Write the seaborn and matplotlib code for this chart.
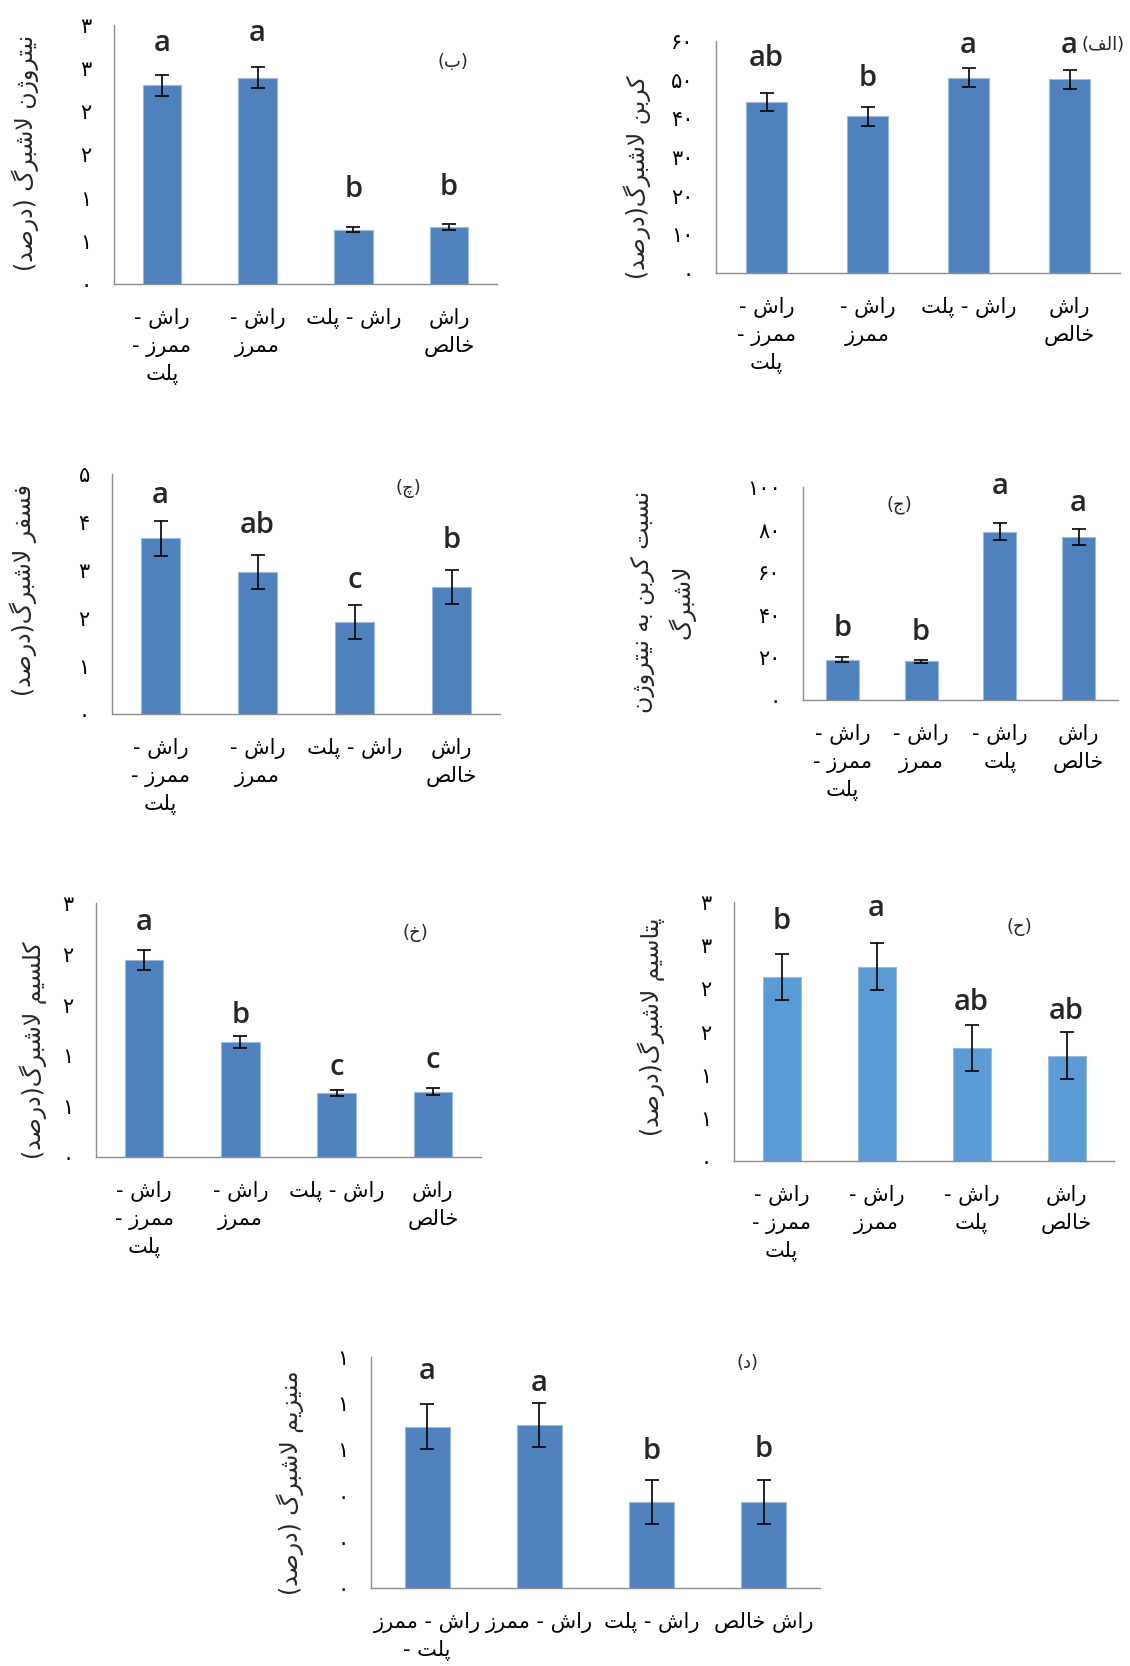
import matplotlib
matplotlib.use('Agg')
import matplotlib.pyplot as plt
import seaborn as sns

sns.set_theme(style="white")
plt.rcParams['font.family'] = ['DejaVu Sans']

W, H = 1130, 1666

categories = ['راش - ممرز - پلت', 'راش - ممرز', 'راش - پلت', 'راش خالص']

# how the category names are wrapped under each panel
labels_wrap_a = ['راش -\nممرز -\nپلت', 'راش -\nممرز', 'راش - پلت', 'راش\nخالص']
labels_wrap_b = ['راش -\nممرز -\nپلت', 'راش -\nممرز', 'راش -\nپلت', 'راش\nخالص']
labels_wrap_c = ['راش - ممرز\nپلت -', 'راش - ممرز', 'راش - پلت', 'راش خالص']

# (الف) carbon
carbon_mean = [44.2, 40.5, 50.5, 50.1]
carbon_err = [2.4, 2.5, 2.5, 2.5]
carbon_letters = ['ab', 'b', 'a', 'a']
carbon_letter_y = [55.4, 50.3, 58.9, 58.9]
carbon_ticks = [0, 10, 20, 30, 40, 50, 60]
carbon_ticklabels = ['۰', '۱۰', '۲۰', '۳۰', '۴۰', '۵۰', '۶۰']

# (ب) nitrogen
nitrogen_mean = [2.30, 2.39, 0.63, 0.66]
nitrogen_err = [0.12, 0.12, 0.033, 0.04]
nitrogen_letters = ['a', 'a', 'b', 'b']
nitrogen_letter_y = [2.79, 2.90, 1.09, 1.12]
nitrogen_ticks = [0, 0.5, 1, 1.5, 2, 2.5, 3]
nitrogen_ticklabels = ['۰', '۱', '۱', '۲', '۲', '۳', '۳']

# (ج) C/N ratio
cn_mean = [18.9, 18.1, 79.1, 76.6]
cn_err = [1.1, 0.9, 4.1, 3.9]
cn_letters = ['b', 'b', 'a', 'a']
cn_letter_y = [33.6, 31.6, 100.0, 92.2]
cn_ticks = [0, 20, 40, 60, 80, 100]
cn_ticklabels = ['۰', '۲۰', '۴۰', '۶۰', '۸۰', '۱۰۰']

# (چ) phosphorus
phos_mean = [3.66, 2.96, 1.92, 2.65]
phos_err = [0.36, 0.36, 0.36, 0.36]
phos_letters = ['a', 'ab', 'c', 'b']
phos_letter_y = [4.55, 3.93, 2.78, 3.61]
phos_ticks = [0, 1, 2, 3, 4, 5]
phos_ticklabels = ['۰', '۱', '۲', '۳', '۴', '۵']

# (ح) potassium
pot_mean = [2.13, 2.25, 1.31, 1.22]
pot_err = [0.27, 0.27, 0.27, 0.27]
pot_letters = ['b', 'a', 'ab', 'ab']
pot_letter_y = [2.77, 2.92, 1.84, 1.73]
pot_ticks = [0, 0.5, 1, 1.5, 2, 2.5, 3]
pot_ticklabels = ['۰', '۱', '۱', '۲', '۲', '۳', '۳']

# (خ) calcium
cal_mean = [1.94, 1.13, 0.63, 0.644]
cal_err = [0.095, 0.057, 0.03, 0.033]
cal_letters = ['a', 'b', 'c', 'c']
cal_letter_y = [2.31, 1.395, 0.88, 0.954]
cal_ticks = [0, 0.5, 1, 1.5, 2, 2.5]
cal_ticklabels = ['۰', '۱', '۱', '۲', '۲', '۳']

# (د) magnesium
mag_mean = [0.699, 0.707, 0.373, 0.373]
mag_err = [0.097, 0.095, 0.096, 0.096]
mag_letters = ['a', 'a', 'b', 'b']
mag_letter_y = [0.938, 0.887, 0.591, 0.598]
mag_ticks = [0, 0.2, 0.4, 0.6, 0.8, 1.0]
mag_ticklabels = ['۰', '۰', '۰', '۱', '۱', '۱']


# minimal arabic shaping (isolated, final, initial, medial)
FORMS = {
    'ا': ('\uFE8D', '\uFE8E', None, None),
    'ب': ('\uFE8F', '\uFE90', '\uFE91', '\uFE92'),
    'پ': ('\uFB56', '\uFB57', '\uFB58', '\uFB59'),
    'ت': ('\uFE95', '\uFE96', '\uFE97', '\uFE98'),
    'ج': ('\uFE9D', '\uFE9E', '\uFE9F', '\uFEA0'),
    'چ': ('\uFB7A', '\uFB7B', '\uFB7C', '\uFB7D'),
    'ح': ('\uFEA1', '\uFEA2', '\uFEA3', '\uFEA4'),
    'خ': ('\uFEA5', '\uFEA6', '\uFEA7', '\uFEA8'),
    'د': ('\uFEA9', '\uFEAA', None, None),
    'ر': ('\uFEAD', '\uFEAE', None, None),
    'ز': ('\uFEAF', '\uFEB0', None, None),
    'ژ': ('\uFB8A', '\uFB8B', None, None),
    'س': ('\uFEB1', '\uFEB2', '\uFEB3', '\uFEB4'),
    'ش': ('\uFEB5', '\uFEB6', '\uFEB7', '\uFEB8'),
    'ص': ('\uFEB9', '\uFEBA', '\uFEBB', '\uFEBC'),
    'ف': ('\uFED1', '\uFED2', '\uFED3', '\uFED4'),
    'ک': ('\uFB8E', '\uFB8F', '\uFB90', '\uFB91'),
    'گ': ('\uFB92', '\uFB93', '\uFB94', '\uFB95'),
    'ل': ('\uFEDD', '\uFEDE', '\uFEDF', '\uFEE0'),
    'م': ('\uFEE1', '\uFEE2', '\uFEE3', '\uFEE4'),
    'ن': ('\uFEE5', '\uFEE6', '\uFEE7', '\uFEE8'),
    'ه': ('\uFEE9', '\uFEEA', '\uFEEB', '\uFEEC'),
    'و': ('\uFEED', '\uFEEE', None, None),
    'ی': ('\uFBFC', '\uFBFD', '\uFBFE', '\uFBFF'),
}


def joins_next(c):
    return c in FORMS and FORMS[c][2] is not None


def shape_line(text):
    out = []
    i = 0
    while i < len(text):
        c = text[i]
        if c not in FORMS:
            out.append(c)
            i += 1
            continue
        link_prev = i > 0 and joins_next(text[i - 1])
        if c == 'ل' and i + 1 < len(text) and text[i + 1] == 'ا':
            out.append('\uFEFC' if link_prev else '\uFEFB')
            i += 2
            continue
        link_next = joins_next(c) and i + 1 < len(text) and text[i + 1] in FORMS
        iso, fin, ini, med = FORMS[c]
        if link_prev and link_next:
            out.append(med)
        elif link_prev:
            out.append(fin)
        elif link_next:
            out.append(ini)
        else:
            out.append(iso)
        i += 1
    return ''.join(reversed(out)).translate(str.maketrans('()', ')('))


def fa(text):
    return '\n'.join(shape_line(t) for t in text.split('\n'))


def px(x, y):
    return x / W, 1 - y / H


YLAB = 17   # y axis titles
CAT = 15    # category labels


def draw_panel(fig, box, means, errs, letters, letter_y, ticks, ticklabels,
               xlabels, color='#4F81BD', width=0.4):
    x0, y0, x1, y1 = box
    ax = fig.add_axes([x0 / W, 1 - y1 / H, (x1 - x0) / W, (y1 - y0) / H])
    sns.barplot(x=categories, y=means, color=color, width=width,
                edgecolor='#9DB9DC', linewidth=0.8, saturation=1, ax=ax)
    xs = [p.get_x() + p.get_width() / 2 for p in ax.patches]
    ax.errorbar(xs, means, yerr=errs, fmt='none', ecolor='black',
                elinewidth=1.2, capsize=5, capthick=1.2)
    for x, lab, ly in zip(xs, letters, letter_y):
        ax.text(x, ly, lab, ha='center', va='center', fontsize=21,
                fontweight='semibold', family=['Open Sans', 'DejaVu Sans'])

    ax.set_xlim(-0.5, 3.5)
    ax.set_ylim(0, ticks[-1])
    ax.set_yticks(ticks)
    ax.set_yticklabels(ticklabels, fontsize=15)
    ax.set_xticks([-0.5, 0.5, 1.5, 2.5, 3.5])
    ax.set_xticklabels([])
    ax.set_xticks(range(4), minor=True)
    ax.set_xticklabels([fa(t) for t in xlabels], minor=True, fontsize=CAT,
                       linespacing=1.45, multialignment='center')
    ax.tick_params(axis='y', which='major', direction='out', length=6,
                   width=1, color='#8C8C8C', pad=10, labelcolor='black')
    ax.tick_params(axis='x', which='major', direction='out', length=7,
                   width=1, color='#8C8C8C')
    ax.tick_params(axis='x', which='minor', length=0, pad=17, labelcolor='black')
    ax.set_xlabel('')
    ax.set_ylabel('')
    sns.despine(ax=ax)
    for s in ['left', 'bottom']:
        ax.spines[s].set_color('#8C8C8C')
        ax.spines[s].set_linewidth(1)
    return ax


fig = plt.figure(figsize=(W / 100, H / 100), dpi=100)

# (ب) nitrogen
draw_panel(fig, (114, 25, 497, 284), nitrogen_mean, nitrogen_err, nitrogen_letters,
           nitrogen_letter_y, nitrogen_ticks, nitrogen_ticklabels, labels_wrap_a)
fig.text(*px(453, 62), fa('(ب)'), ha='center', va='center', fontsize=13)
fig.text(*px(25, 153), fa('نیتروژن لاشبرگ (درصد)'), rotation=90,
         ha='center', va='center', fontsize=YLAB)

# (الف) carbon
draw_panel(fig, (716, 41, 1120, 273), carbon_mean, carbon_err, carbon_letters,
           carbon_letter_y, carbon_ticks, carbon_ticklabels, labels_wrap_a)
fig.text(*px(1103, 45), fa('(الف)'), ha='center', va='center', fontsize=13)
fig.text(*px(637, 177), fa('کربن لاشبرگ(درصد)'), rotation=90,
         ha='center', va='center', fontsize=YLAB)

# (چ) phosphorus
draw_panel(fig, (112, 474, 500, 714), phos_mean, phos_err, phos_letters,
           phos_letter_y, phos_ticks, phos_ticklabels, labels_wrap_a)
fig.text(*px(408, 488), fa('(چ)'), ha='center', va='center', fontsize=13)
fig.text(*px(23, 590), fa('فسفر لاشبرگ(درصد)'), rotation=90,
         ha='center', va='center', fontsize=YLAB)

# (ج) C/N
draw_panel(fig, (803, 487, 1118, 700), cn_mean, cn_err, cn_letters,
           cn_letter_y, cn_ticks, cn_ticklabels, labels_wrap_b, width=0.42)
fig.text(*px(899, 505), fa('(ج)'), ha='center', va='center', fontsize=13)
fig.text(*px(663, 602), fa('نسبت کربن به نیتروژن\nلاشبرگ'), rotation=90,
         ha='center', va='center', fontsize=YLAB, linespacing=1.6,
         multialignment='center')

# (خ) calcium
draw_panel(fig, (96, 903, 481, 1157), cal_mean, cal_err, cal_letters,
           cal_letter_y, cal_ticks, cal_ticklabels, labels_wrap_a)
fig.text(*px(415, 933), fa('(خ)'), ha='center', va='center', fontsize=13)
fig.text(*px(33, 1050), fa('کلسیم لاشبرگ(درصد)'), rotation=90,
         ha='center', va='center', fontsize=YLAB)

# (ح) potassium
draw_panel(fig, (734, 902, 1114, 1161), pot_mean, pot_err, pot_letters,
           pot_letter_y, pot_ticks, pot_ticklabels, labels_wrap_b, color='#5B9BD5')
fig.text(*px(1019, 927), fa('(ح)'), ha='center', va='center', fontsize=13)
fig.text(*px(651, 1027), fa('پتاسیم لاشبرگ(درصد)'), rotation=90,
         ha='center', va='center', fontsize=YLAB)

# (د) magnesium
draw_panel(fig, (371, 1357, 820, 1588), mag_mean, mag_err, mag_letters,
           mag_letter_y, mag_ticks, mag_ticklabels, labels_wrap_c)
fig.text(*px(747, 1363), fa('(د)'), ha='center', va='center', fontsize=13)
fig.text(*px(290, 1483), fa('منیزیم لاشبرگ (درصد)'), rotation=90,
         ha='center', va='center', fontsize=YLAB)

fig.savefig('out.png', dpi=100, facecolor='white')
